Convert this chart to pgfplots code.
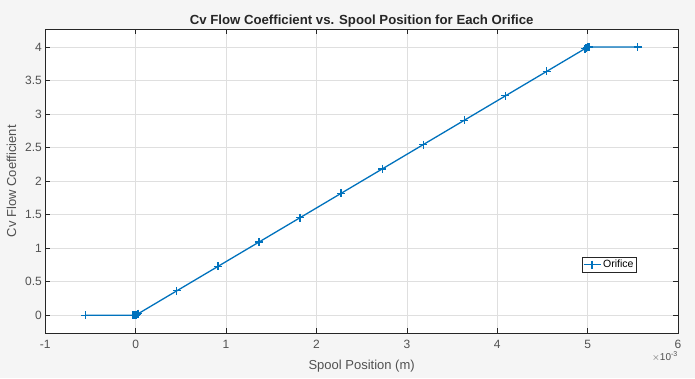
\documentclass[border=0pt]{standalone}
\usepackage{pgfplots}
\pgfplotsset{compat=1.18}
\usepackage{fontspec}
\setmainfont{Liberation Sans}
\definecolor{figbg}{RGB}{245,245,245}
\definecolor{mblue}{RGB}{0,114,189}
\definecolor{axcol}{RGB}{38,38,38}
\definecolor{gridc}{RGB}{223,223,223}
\begin{document}
\begin{tikzpicture}[x=1pt,y=1pt]
\fill[figbg] (0,0) rectangle (695,378);
\useasboundingbox (0,0) rectangle (695,378);
\begin{axis}[
  at={(45.3pt,44.7pt)}, anchor=south west,
  scale only axis, width=632.7pt, height=304.3pt,
  xmin=-1, xmax=6, ymin=-0.27, ymax=4.27,
  axis background/.style={fill=white},
  axis line style={axcol, line width=0.6pt},
  xtick={-1,0,1,2,3,4,5,6},
  xticklabels={-1,0,1,2,3,4,5,6},
  ytick={0,0.5,1,1.5,2,2.5,3,3.5,4},
  yticklabels={0,0.5,1,1.5,2,2.5,3,3.5,4},
  tick align=inside,
  major tick length=5pt,
  tick style={axcol, line width=0.6pt},
  grid=major,
  major grid style={gridc, line width=0.6pt},
  ticklabel style={font=\fontsize{12}{14}\selectfont, text=axcol!80},
  xticklabel style={yshift=-3pt},
  title={\bfseries Cv Flow Coefficient vs. Spool Position for Each Orifice},
  title style={font=\fontsize{13.2}{15}\selectfont, text=axcol, at={(0.5,1)}, anchor=south, yshift=-8pt},
  xlabel={Spool Position (m)},
  ylabel={Cv Flow Coefficient},
  label style={font=\fontsize{13}{15}\selectfont, text=axcol!80},
  xlabel style={yshift=-5pt},
  ylabel style={yshift=2pt},
  legend style={at={(0.935,0.226)}, anchor=east, draw=axcol, line width=0.6pt,
    font=\fontsize{10.5}{12}\selectfont, inner xsep=1pt, inner ysep=1pt, fill=white},
  legend cell align=left,
  legend image post style={line width=1.3pt},
  clip=false,
]
\addplot[mblue, line width=1.3pt, mark=+, mark size=4pt, mark options={line width=1.3pt}] coordinates {
(-0.5556,0)
(-0.03,0) (-0.02,0) (-0.01,0) (0,0) (0.01,0.008) (0.02,0.016) (0.03,0.024)
(0.4545,0.3636) (0.9091,0.7273) (1.3636,1.0909) (1.8182,1.4545) (2.2727,1.8182)
(2.7273,2.1818) (3.1818,2.5455) (3.6364,2.9091) (4.0909,3.2727) (4.5455,3.6364)
(4.97,3.976) (4.98,3.984) (4.99,3.992) (5.0,4.0) (5.01,4.0) (5.02,4.0)
(5.5556,4.0)
};
\addlegendentry{Orifice}
\node[anchor=north east, font=\fontsize{10}{11}\selectfont, text=axcol!80, inner sep=0pt]
  at (rel axis cs:1,0) [yshift=-18pt] {$\times$10\textsuperscript{-3}};
\end{axis}
\end{tikzpicture}
\end{document}
